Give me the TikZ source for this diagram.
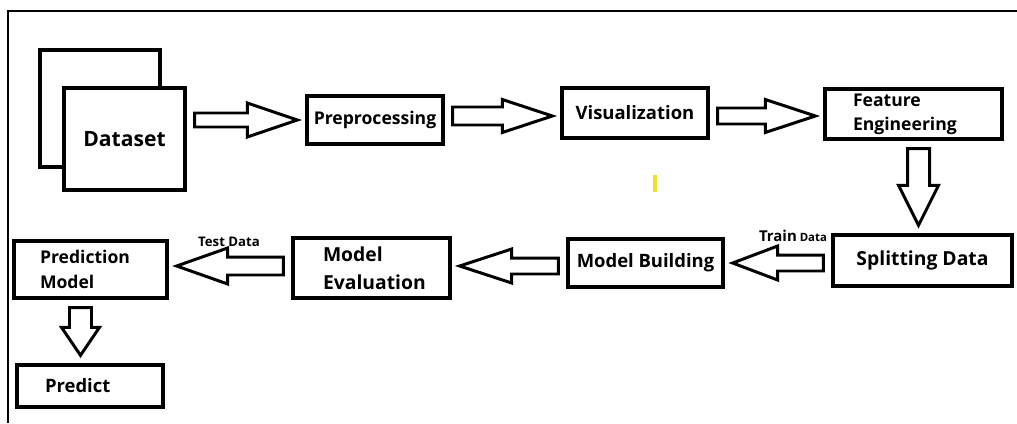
\documentclass[tikz,border=0pt]{standalone}
\usepackage{fontspec}
\setmainfont{Open Sans}
\usetikzlibrary{calc}
\definecolor{markyellow}{RGB}{246,222,40}
\tikzset{
  box/.style={draw, line width=1.9pt, fill=white, inner sep=0pt},
  barrow/.style n args={3}{draw, line width=1.7pt, fill=white,
    to path={let \p1=($(\tikztostart)!0.16cm!(\tikztotarget)$),
                 \p2=($(\tikztotarget)!0.16cm!(\tikztostart)$),
                 \p3=($(\p2)!#1!(\p1)$) in
      ($(\p1)!#2!90:(\p2)$) -- ($(\p3)!#2!90:(\p2)$) -- ($(\p3)!#3!90:(\p2)$) -- (\p2)
      -- ($(\p3)!#3!-90:(\p2)$) -- ($(\p3)!#2!-90:(\p2)$) -- ($(\p1)!#2!-90:(\p2)$) -- cycle}}
}
\begin{document}
\begin{tikzpicture}[x=0.02cm, y=-0.02cm]
\useasboundingbox (0,0) rectangle (1017,423);
\draw[line width=1.3pt] (8,423) -- (8,11) -- (1017,11);
\node[box, minimum width=2.4cm, minimum height=2.34cm] (back) at (100,108.5) {};
\node[box, minimum width=2.42cm, minimum height=2.04cm, font=\bfseries\fontsize{12}{14}\selectfont] (data) at (124.5,139) {\raisebox{-3pt}{Dataset}};
\node[box, minimum width=2.72cm, minimum height=0.96cm, font=\bfseries\fontsize{10}{12}\selectfont] (prep) at (375,120) {Preprocessing};
\node[box, minimum width=2.92cm, minimum height=1cm, font=\bfseries\fontsize{10.5}{12}\selectfont] (vis) at (635,113) {Visualization};
\node[box, align=left, text width=2.42cm, inner xsep=0.56cm, minimum height=1cm, font=\bfseries\fontsize{10}{13.6}\selectfont] (feat) at (913.5,114) {Feature\\Engineering\par\vspace*{-5pt}};
\node[box, minimum width=3.58cm, minimum height=1.02cm, font=\bfseries\fontsize{11}{13}\selectfont] (split) at (922.5,260.5) {Splitting Data};
\node[box, minimum width=3.1cm, minimum height=0.96cm, font=\bfseries\fontsize{10.5}{12}\selectfont] (build) at (645.5,263) {Model Building};
\node[box, align=left, text width=1.94cm, inner xsep=0.6cm, minimum height=1.2cm, font=\bfseries\fontsize{11}{16}\selectfont] (eval) at (371.5,268) {Model\\Evaluation};
\node[box, align=left, text width=2.02cm, inner xsep=0.52cm, minimum height=1.14cm, font=\bfseries\fontsize{10}{14}\selectfont] (predm) at (90.5,269.5) {Prediction\\Model};
\node[box, align=left, text width=1.8cm, inner xsep=0.56cm, minimum height=0.84cm, font=\bfseries\fontsize{10.5}{12}\selectfont] (pred) at (90,386) {Predict};
\node[font=\bfseries\fontsize{8.5}{9}\selectfont] (trainlbl) at (793,236) {Train{\fontsize{6.5}{7}\selectfont{} Data}};
\node[font=\bfseries\fontsize{7.5}{9}\selectfont] (testlbl) at (229,242) {Test Data};
\draw[barrow={1cm}{0.14cm}{0.34cm}] (data.east |- prep.west) to (prep.west);
\draw[barrow={1cm}{0.18cm}{0.33cm}] ($(prep.east)+(0,-4)$) to ($(prep.east -| vis.west)+(0,-4)$);
\draw[barrow={1cm}{0.16cm}{0.33cm}] ($(vis.east)+(0,3)$) to ($(vis.east -| feat.west)+(0,3)$);
\draw[barrow={0.8cm}{0.22cm}{0.4cm}] ($(feat.south)+(5,0)$) to ($(split.north)+(-4,0)$);
\draw[barrow={0.9cm}{0.16cm}{0.34cm}] (split.west |- build.east) to (build.east);
\draw[barrow={1.04cm}{0.16cm}{0.34cm}] ($(build.west)+(0,3)$) to ($(build.west -| eval.east)+(0,3)$);
\draw[barrow={1.02cm}{0.18cm}{0.36cm}] ($(eval.west)+(0,-2)$) to ($(eval.west -| predm.east)+(0,-2)$);
\draw[barrow={0.56cm}{0.22cm}{0.38cm}] ($(predm.south)+(-10,0)$) to ($(predm.south |- pred.north)+(-10,0)$);
\fill[markyellow] (653,175) rectangle (657,192);
\end{tikzpicture}
\end{document}
